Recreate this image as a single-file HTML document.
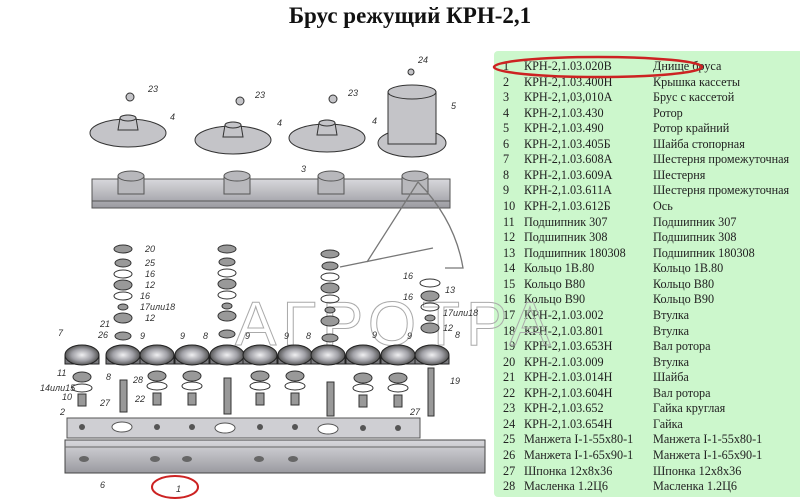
<!DOCTYPE html>
<html><head><meta charset="utf-8"><style>
html,body{margin:0;padding:0;background:#fff;width:800px;height:500px;overflow:hidden;position:relative;font-family:"Liberation Serif",serif}
.title{position:absolute;left:0;width:820px;top:3px;text-align:center;font-weight:bold;font-size:23px;color:#111}
.tbl{position:absolute;left:494px;top:51px;width:310px;height:446px;background:#ccf7cc;border-radius:4px}
.r{position:absolute;left:0;font-size:12.2px;color:#222;white-space:nowrap;height:15px;line-height:15px}
.r span{position:absolute}
svg{position:absolute;left:0;top:0}
</style></head><body>
<div class="title">Брус режущий КРН-2,1</div>
<div class="tbl" id="t"></div>
<svg width="800" height="500" viewBox="0 0 800 500">
<defs>
<linearGradient id="g" x1="0" y1="0" x2="0" y2="1"><stop offset="0" stop-color="#d8d8dc"/><stop offset="1" stop-color="#9a9aa0"/></linearGradient>
<radialGradient id="gr"><stop offset="0" stop-color="#f0f0f2"/><stop offset="0.6" stop-color="#a0a0a6"/><stop offset="1" stop-color="#555"/></radialGradient>
</defs>
<rect x="92" y="179" width="358" height="29" fill="url(#g)" stroke="#555"/>
<line x1="92" y1="201" x2="450" y2="201" stroke="#555"/>
<g fill="#b8b8bc" stroke="#555">
<rect x="118" y="176" width="26" height="18"/><ellipse cx="131" cy="176" rx="13" ry="5"/>
<rect x="224" y="176" width="26" height="18"/><ellipse cx="237" cy="176" rx="13" ry="5"/>
<rect x="318" y="176" width="26" height="18"/><ellipse cx="331" cy="176" rx="13" ry="5"/>
<rect x="402" y="176" width="26" height="18"/><ellipse cx="415" cy="176" rx="13" ry="5"/>
</g>
<g fill="#c4c4c8" stroke="#333">
<ellipse cx="128" cy="133" rx="38" ry="14"/><path d="M118 130 L120 118 Q128 112 136 118 L138 130Z"/><ellipse cx="128" cy="118" rx="8" ry="3"/>
<ellipse cx="233" cy="140" rx="38" ry="14"/><path d="M223 137 L225 125 Q233 119 241 125 L243 137Z"/><ellipse cx="233" cy="125" rx="8" ry="3"/>
<ellipse cx="327" cy="138" rx="38" ry="14"/><path d="M317 135 L319 123 Q327 117 335 123 L337 135Z"/><ellipse cx="327" cy="123" rx="8" ry="3"/>
<ellipse cx="412" cy="143" rx="34" ry="14"/><rect x="388" y="92" width="48" height="52"/><ellipse cx="412" cy="92" rx="24" ry="7"/>
<circle cx="130" cy="97" r="4"/><circle cx="240" cy="101" r="4"/><circle cx="333" cy="99" r="4"/><circle cx="411" cy="72" r="3"/>
</g>
<g font-family="Liberation Sans,sans-serif" font-size="9" font-style="italic" fill="#333">
<text x="148" y="92">23</text><text x="255" y="98">23</text><text x="348" y="96">23</text><text x="418" y="63">24</text>
<text x="170" y="120">4</text><text x="277" y="126">4</text><text x="372" y="124">4</text><text x="451" y="109">5</text><text x="301" y="172">3</text>
</g>
<g stroke="#777" fill="none" stroke-width="1.3">
<path d="M340 267 L433 248 M367 262 L418 182 M418 182 Q455 220 463 268 L445 268"/>
</g>
<text x="235" y="345" font-family="Liberation Sans,sans-serif" font-size="62" fill="none" stroke="#aaa" stroke-width="1" letter-spacing="6">АГРОТРА</text>
<g fill="#999" stroke="#333" stroke-width="1">
<ellipse cx="123" cy="249" rx="9" ry="4"/><ellipse cx="123" cy="263" rx="8" ry="4"/><ellipse cx="123" cy="274" rx="9" ry="4" fill="none"/><ellipse cx="123" cy="285" rx="9" ry="5"/><ellipse cx="123" cy="296" rx="9" ry="4" fill="none"/><ellipse cx="123" cy="307" rx="5" ry="3"/><ellipse cx="123" cy="318" rx="9" ry="5"/><ellipse cx="123" cy="336" rx="8" ry="4"/>
<ellipse cx="227" cy="249" rx="9" ry="4"/><ellipse cx="227" cy="262" rx="8" ry="4"/><ellipse cx="227" cy="273" rx="9" ry="4" fill="none"/><ellipse cx="227" cy="284" rx="9" ry="5"/><ellipse cx="227" cy="295" rx="9" ry="4" fill="none"/><ellipse cx="227" cy="306" rx="5" ry="3"/><ellipse cx="227" cy="316" rx="9" ry="5"/><ellipse cx="227" cy="334" rx="8" ry="4"/>
<ellipse cx="330" cy="254" rx="9" ry="4"/><ellipse cx="330" cy="266" rx="8" ry="4"/><ellipse cx="330" cy="277" rx="9" ry="4" fill="none"/><ellipse cx="330" cy="288" rx="9" ry="5"/><ellipse cx="330" cy="299" rx="9" ry="4" fill="none"/><ellipse cx="330" cy="310" rx="5" ry="3"/><ellipse cx="330" cy="321" rx="9" ry="5"/><ellipse cx="330" cy="338" rx="8" ry="4"/>
<ellipse cx="430" cy="283" rx="10" ry="4" fill="none"/><ellipse cx="430" cy="296" rx="9" ry="5"/><ellipse cx="430" cy="307" rx="9" ry="4" fill="none"/><ellipse cx="430" cy="318" rx="5" ry="3"/><ellipse cx="430" cy="328" rx="9" ry="5"/>
</g>
<g stroke="#222" stroke-width="1">
<g fill="#7a7a7e"><rect x="65" y="355" width="34" height="9"/><rect x="106" y="355" width="34" height="9"/><rect x="140" y="355" width="34" height="9"/><rect x="175" y="355" width="34" height="9"/><rect x="210" y="355" width="34" height="9"/><rect x="243" y="355" width="34" height="9"/><rect x="278" y="355" width="34" height="9"/><rect x="311" y="355" width="34" height="9"/><rect x="346" y="355" width="34" height="9"/><rect x="381" y="355" width="34" height="9"/><rect x="415" y="355" width="34" height="9"/></g>
<g fill="url(#gr)"><ellipse cx="82" cy="355" rx="17" ry="10"/><ellipse cx="123" cy="355" rx="17" ry="10"/><ellipse cx="157" cy="355" rx="17" ry="10"/><ellipse cx="192" cy="355" rx="17" ry="10"/><ellipse cx="227" cy="355" rx="17" ry="10"/><ellipse cx="260" cy="355" rx="17" ry="10"/><ellipse cx="295" cy="355" rx="17" ry="10"/><ellipse cx="328" cy="355" rx="17" ry="10"/><ellipse cx="363" cy="355" rx="17" ry="10"/><ellipse cx="398" cy="355" rx="17" ry="10"/><ellipse cx="432" cy="355" rx="17" ry="10"/></g>
</g>
<g fill="#999" stroke="#333">
<ellipse cx="82" cy="377" rx="9" ry="5"/><ellipse cx="82" cy="388" rx="10" ry="4" fill="none"/><rect x="78" y="394" width="8" height="12"/>
<rect x="120" y="380" width="7" height="32"/><rect x="224" y="378" width="7" height="36"/><rect x="327" y="382" width="7" height="34"/><rect x="428" y="368" width="6" height="48"/>
<ellipse cx="157" cy="376" rx="9" ry="5"/><ellipse cx="157" cy="386" rx="10" ry="4" fill="none"/><rect x="153" y="393" width="8" height="12"/>
<ellipse cx="192" cy="376" rx="9" ry="5"/><ellipse cx="192" cy="386" rx="10" ry="4" fill="none"/><rect x="188" y="393" width="8" height="12"/>
<ellipse cx="260" cy="376" rx="9" ry="5"/><ellipse cx="260" cy="386" rx="10" ry="4" fill="none"/><rect x="256" y="393" width="8" height="12"/>
<ellipse cx="295" cy="376" rx="9" ry="5"/><ellipse cx="295" cy="386" rx="10" ry="4" fill="none"/><rect x="291" y="393" width="8" height="12"/>
<ellipse cx="363" cy="378" rx="9" ry="5"/><ellipse cx="363" cy="388" rx="10" ry="4" fill="none"/><rect x="359" y="395" width="8" height="12"/>
<ellipse cx="398" cy="378" rx="9" ry="5"/><ellipse cx="398" cy="388" rx="10" ry="4" fill="none"/><rect x="394" y="395" width="8" height="12"/>
</g>
<path d="M67 418 L420 418 L420 438 L67 438Z" fill="#cfcfd3" stroke="#555"/>
<g fill="#fff" stroke="#555"><ellipse cx="122" cy="427" rx="10" ry="5"/><ellipse cx="225" cy="428" rx="10" ry="5"/><ellipse cx="328" cy="429" rx="10" ry="5"/></g>
<g fill="#555"><circle cx="82" cy="427" r="3"/><circle cx="157" cy="427" r="3"/><circle cx="192" cy="427" r="3"/><circle cx="260" cy="427" r="3"/><circle cx="295" cy="427" r="3"/><circle cx="363" cy="428" r="3"/><circle cx="398" cy="428" r="3"/></g>
<rect x="65" y="440" width="420" height="33" fill="url(#g)" stroke="#444"/>
<line x1="65" y1="447" x2="485" y2="447" stroke="#666"/>
<g fill="#666"><ellipse cx="84" cy="459" rx="5" ry="3"/><ellipse cx="155" cy="459" rx="5" ry="3"/><ellipse cx="187" cy="459" rx="5" ry="3"/><ellipse cx="259" cy="459" rx="5" ry="3"/><ellipse cx="293" cy="459" rx="5" ry="3"/></g>
<ellipse cx="175" cy="487" rx="23" ry="11" fill="none" stroke="#c22" stroke-width="2"/>
<g font-family="Liberation Sans,sans-serif" font-size="9" font-style="italic" fill="#333">
<text x="145" y="252">20</text><text x="145" y="266">25</text><text x="145" y="277">16</text><text x="145" y="288">12</text><text x="140" y="299">16</text><text x="140" y="310">17или18</text><text x="145" y="321">12</text>
<text x="100" y="327">21</text><text x="98" y="338">26</text><text x="58" y="336">7</text><text x="140" y="339">9</text><text x="180" y="339">9</text><text x="203" y="339">8</text><text x="245" y="339">9</text><text x="284" y="339">9</text><text x="306" y="339">8</text><text x="372" y="338">9</text><text x="407" y="339">9</text><text x="455" y="338">8</text>
<text x="57" y="376">11</text><text x="40" y="391">14или15</text><text x="62" y="400">10</text><text x="106" y="380">8</text><text x="133" y="383">28</text><text x="135" y="402">22</text><text x="100" y="406">27</text>
<text x="403" y="279">16</text><text x="445" y="293">13</text><text x="403" y="300">16</text><text x="443" y="316">17или18</text><text x="443" y="331">12</text><text x="450" y="384">19</text><text x="410" y="415">27</text>
<text x="60" y="415">2</text><text x="100" y="488">6</text><text x="176" y="492">1</text>
</g>
<ellipse cx="598" cy="67" rx="104" ry="10" fill="none" stroke="#c22" stroke-width="2.5"/>
</svg>
<script>
var d=[["1","КРН-2,1.03.020В","Днище бруса"],["2","КРН-2,1.03.400Н","Крышка кассеты"],["3","КРН-2,1,03,010А","Брус с кассетой"],["4","КРН-2,1.03.430","Ротор"],["5","КРН-2,1.03.490","Ротор крайний"],["6","КРН-2,1.03.405Б","Шайба стопорная"],["7","КРН-2,1.03.608А","Шестерня промежуточная"],["8","КРН-2,1.03.609А","Шестерня"],["9","КРН-2,1.03.611А","Шестерня промежуточная"],["10","КРН-2,1.03.612Б","Ось"],["11","Подшипник 307","Подшипник 307"],["12","Подшипник 308","Подшипник 308"],["13","Подшипник 180308","Подшипник 180308"],["14","Кольцо 1В.80","Кольцо 1В.80"],["15","Кольцо В80","Кольцо В80"],["16","Кольцо В90","Кольцо В90"],["17","КРН-2,1.03.002","Втулка"],["18","КРН-2,1.03.801","Втулка"],["19","КРН-2,1.03.653Н","Вал ротора"],["20","КРН-2.1.03.009","Втулка"],["21","КРН-2.1.03.014Н","Шайба"],["22","КРН-2,1.03.604Н","Вал ротора"],["23","КРН-2,1.03.652","Гайка круглая"],["24","КРН-2,1.03.654Н","Гайка"],["25","Манжета I-1-55x80-1","Манжета I-1-55x80-1"],["26","Манжета I-1-65x90-1","Манжета I-1-65x90-1"],["27","Шпонка 12x8x36","Шпонка 12x8x36"],["28","Масленка 1.2Ц6","Масленка 1.2Ц6"]];
var t=document.getElementById('t'),h='';
for(var i=0;i<d.length;i++){h+='<div class="r" style="top:'+(8+i*15.56)+'px"><span style="left:9px">'+d[i][0]+'</span><span style="left:30px">'+d[i][1]+'</span><span style="left:159px">'+d[i][2]+'</span></div>';}
t.innerHTML=h;
</script>
</body></html>
